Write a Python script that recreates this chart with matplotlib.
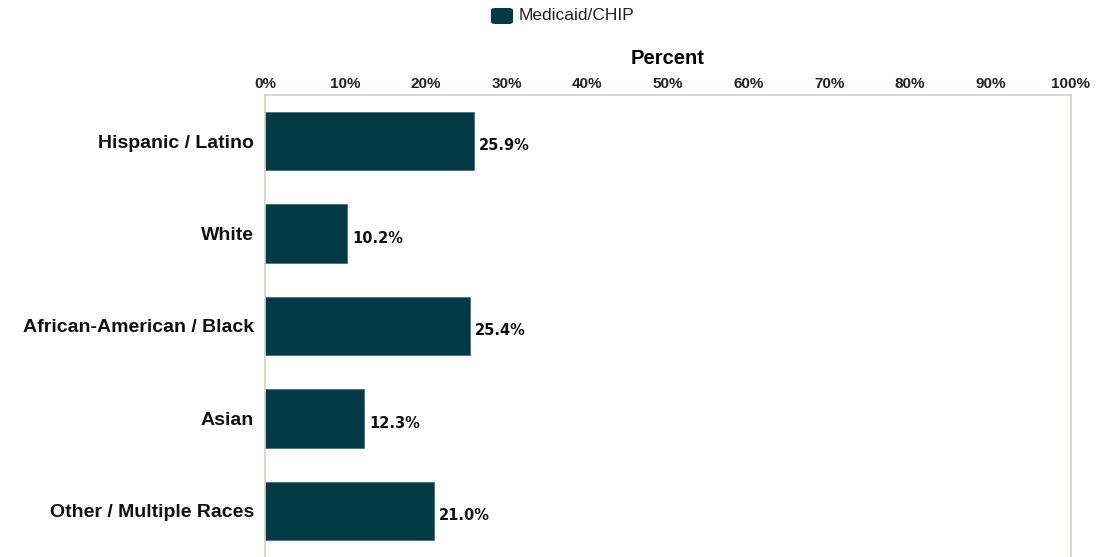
import matplotlib
matplotlib.use("Agg")
import matplotlib.pyplot as plt
from matplotlib.patches import FancyBboxPatch

categories = ["Hispanic / Latino", "White", "African-American / Black", "Asian", "Other / Multiple Races"]
values = [25.9, 10.2, 25.4, 12.3, 21.0]
series_name = "Medicaid/CHIP"
ticks = [0, 10, 20, 30, 40, 50, 60, 70, 80, 90, 100]

bar_color = "#023a45"
spine_color = "#d8cdc2"

plt.rcParams['font.family'] = ['Liberation Sans', 'DejaVu Sans']

fig = plt.figure(figsize=(11.06, 5.57), dpi=100)
ax = fig.add_axes([265 / 1106, 0, 806 / 1106, 462 / 557])

y = list(range(len(categories)))
ax.barh(y, values, height=0.63, color=bar_color, edgecolor="#4a6f76", linewidth=0.6)
ax.set_ylim(4.5, -0.5)
ax.set_xlim(0, 100)

ax.xaxis.tick_top()
ax.xaxis.set_label_position("top")
ax.set_xticks(ticks)
ax.set_xticklabels([f"{t}%" for t in ticks], fontsize=11, fontweight="bold", color="#222222")
ax.set_xlabel("Percent", fontsize=14.5, fontweight="bold", labelpad=9)
ax.set_yticks(y)
ax.set_yticklabels(categories, fontsize=14, fontweight="bold", color="#111111")
ax.tick_params(length=0, pad=8)
ax.tick_params(axis="x", pad=3)

for s in ["left", "top", "right"]:
    ax.spines[s].set_color(spine_color)
    ax.spines[s].set_linewidth(1.2)
ax.spines["bottom"].set_visible(False)

for yi, v in zip(y, values):
    ax.text(v + 0.6, yi + 0.05, f"{v:.1f}%", va="center", ha="left",
            fontsize=10.5, fontweight="bold", family="DejaVu Sans", color="#111111")

# legend
patch = FancyBboxPatch((491 / 1106, 1 - 24 / 557), 22 / 1106, 16 / 557,
                       boxstyle="round,pad=0,rounding_size=0.004",
                       transform=fig.transFigure, facecolor=bar_color, edgecolor="none")
fig.patches.append(patch)
fig.text(519 / 1106, 1 - 16 / 557, series_name, fontsize=12.5, va="center", ha="left", color="#222222")

fig.savefig("out.png", dpi=100)
